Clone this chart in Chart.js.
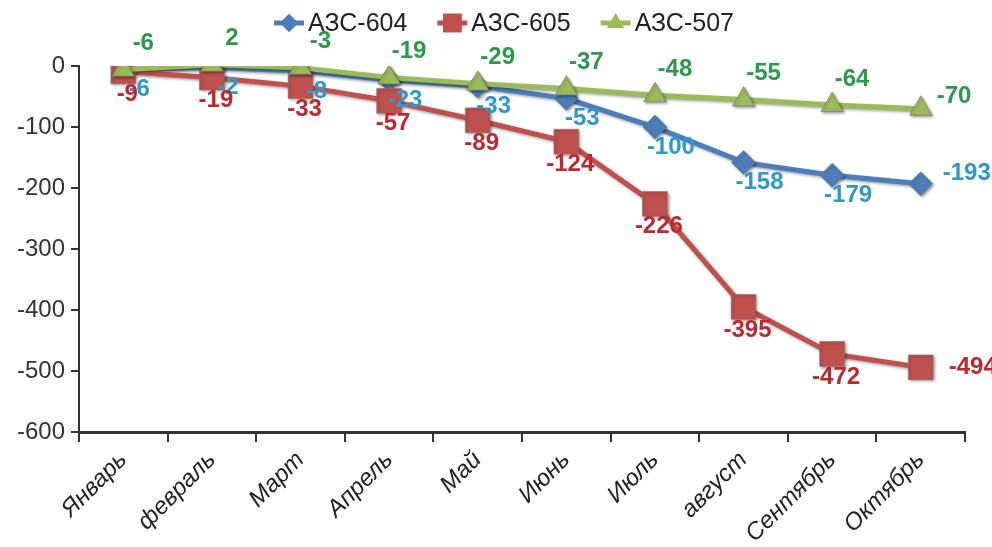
<!DOCTYPE html>
<html><head><meta charset="utf-8">
<script src="https://cdn.jsdelivr.net/npm/chart.js@4/dist/chart.umd.min.js"></script>
<style>html,body{margin:0;padding:0;background:#fff}#wrap{width:992px;height:547px}</style>
</head><body><div id="wrap"><canvas id="c" width="992" height="547"></canvas></div>
<script>
const categories = ['Январь','февраль','Март','Апрель','Май','Июнь','Июль','август','Сентябрь','Октябрь'];
const seriesNames = ['АЗС-604','АЗС-605','АЗС-507'];
const azs604 = [-6, -2, -8, -23, -33, -53, -100, -158, -179, -193];
const azs605 = [-9, -19, -33, -57, -89, -124, -226, -395, -472, -494];
const azs507 = [-6, 2, -3, -19, -29, -37, -48, -55, -64, -70];
const yMin = -600, yMax = 0, yStep = 100;

const FONT = "'Liberation Sans', Arial, sans-serif";

const styles = [
  {line:'#4A7EBB', label:'#2E98CC', point:'rectRot', r:12, dx:16, dy:20, lastDx:22, lastDy:-10, order:2},
  {line:'#C0504D', label:'#C0272D', point:'rect', r:17.5, dx:4, dy:23, lastDx:28, lastDy:0, order:1},
  {line:'#9BBB59', label:'#2A9A4A', point:'triangle', r:13, dx:20, dy:-26, lastDx:16, lastDy:-12, order:0}
];
const seriesData = [azs604, azs605, azs507];

const shadowPlugin = {
  id:'shadow',
  beforeDatasetDraw(chart){const c=chart.ctx;c.save();c.shadowColor='rgba(0,0,0,0.4)';c.shadowBlur=3;c.shadowOffsetX=1.5;c.shadowOffsetY=1.5;},
  afterDatasetDraw(chart){chart.ctx.restore();}
};

const labelPlugin = {
  id:'vlabels',
  afterDatasetsDraw(chart){
    const c = chart.ctx;
    c.save();
    c.font = "bold 24px " + FONT;
    c.textBaseline = 'middle';
    chart.data.datasets.forEach((ds, di) => {
      const st = styles[di];
      const meta = chart.getDatasetMeta(di);
      c.fillStyle = st.label;
      meta.data.forEach((pt, i) => {
        const last = i === meta.data.length - 1;
        const txt = String(ds.data[i]);
        if (last) { c.textAlign = 'left'; c.fillText(txt, pt.x + st.lastDx, pt.y + st.lastDy); }
        else { c.textAlign = 'center'; c.fillText(txt, pt.x + st.dx, pt.y + st.dy); }
      });
    });
    c.restore();
  }
};

const legendPlugin = {
  id:'customLegend',
  afterDraw(chart){
    const c = chart.ctx;
    c.save();
    c.font = "25px " + FONT;
    const lineW = 30, gap = 4, spacing = 30;
    const widths = seriesNames.map(n => c.measureText(n).width);
    const total = widths.reduce((a,w)=>a+lineW+gap+w,0) + spacing*(seriesNames.length-1);
    let x = chart.width/2 + 8 - total/2;
    const y = 23;
    seriesNames.forEach((n, i) => {
      const st = styles[i];
      c.strokeStyle = st.line; c.lineWidth = 5;
      c.beginPath(); c.moveTo(x, y); c.lineTo(x+lineW, y); c.stroke();
      c.fillStyle = st.line;
      Chart.helpers.drawPoint(c, {pointStyle: st.point, radius: st.r*0.75, borderWidth:0}, x+lineW/2, y);
      c.fill();
      c.fillStyle = '#222'; c.textAlign='left'; c.textBaseline='middle';
      c.fillText(n, x+lineW+gap, y+1);
      x += lineW + gap + widths[i] + spacing;
    });
    c.restore();
  }
};

new Chart(document.getElementById('c'), {
  type:'line',
  data:{
    labels: categories,
    datasets: seriesData.map((d, i) => ({
      label: seriesNames[i],
      data: d,
      borderColor: styles[i].line,
      backgroundColor: styles[i].line,
      borderWidth: 5,
      pointStyle: styles[i].point,
      pointRadius: styles[i].r,
      pointBackgroundColor: styles[i].line,
      pointBorderColor: 'rgba(120,120,120,0.6)',
      pointBorderWidth: 1,
      tension: 0,
      order: styles[i].order
    }))
  },
  options:{
    responsive:false,
    animation:false,
    layout:{padding:{top:66, right:27, left:0, bottom:0}},
    plugins:{legend:{display:false}, tooltip:{enabled:false}},
    scales:{
      x:{
        type:'category', offset:true,
        grid:{offset:true, drawOnChartArea:false, drawTicks:true, tickLength:10, color:'#333', lineWidth:2},
        border:{display:true, color:'#333', width:3},
        ticks:{minRotation:45, maxRotation:45, autoSkip:false, color:'#222', padding:4, font:{family:FONT, size:24, style:'italic'}},
        afterFit(s){ s.height = 115; }
      },
      y:{
        min:yMin, max:yMax,
        grid:{drawOnChartArea:false, drawTicks:true, tickLength:8, color:'#333', lineWidth:2},
        border:{display:true, color:'#333', width:2},
        ticks:{stepSize:yStep, color:'#333', padding:6, font:{family:FONT, size:24}},
        afterFit(s){ s.width = 79; }
      }
    }
  },
  plugins:[shadowPlugin, labelPlugin, legendPlugin]
});
</script></body></html>
